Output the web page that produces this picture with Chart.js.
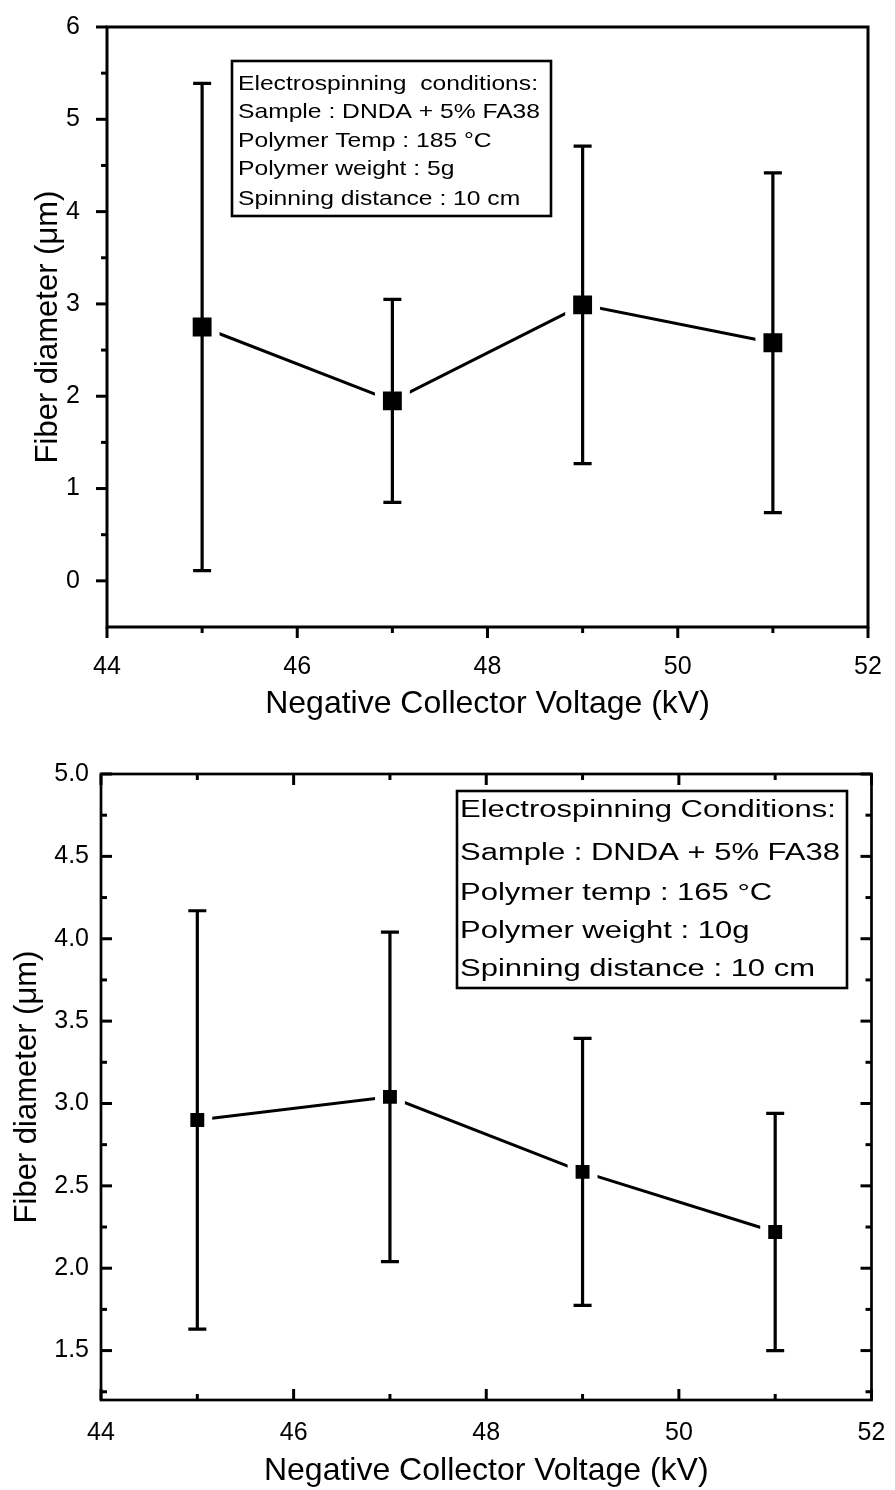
<!DOCTYPE html>
<html><head><meta charset="utf-8">
<script src="https://cdn.jsdelivr.net/npm/chart.js@4/dist/chart.umd.min.js"></script>
<style>
html,body{margin:0;padding:0;background:#fff;overflow:hidden;}
#w1{position:absolute;left:0;top:0;width:895px;height:730px;}
#w2{position:absolute;left:0;top:730px;width:895px;height:760px;}
</style></head><body>
<div id="w1"><canvas id="c1"></canvas></div>
<div id="w2"><canvas id="c2"></canvas></div>
<script>
// ---------- data ----------
const voltage = [45, 47, 49, 51];
const diameterA = [2.75, 1.95, 2.99, 2.58];
const errorA = [2.64, 1.10, 1.72, 1.84];
const diameterB = [2.90, 3.04, 2.585, 2.22];
const errorB = [1.27, 1.00, 0.81, 0.72];
const xTickValues = [44, 46, 48, 50, 52];
const xMinorValues = [45, 47, 49, 51];
const yTickValuesA = [0, 1, 2, 3, 4, 5, 6];
const yMinorValuesA = [0.5, 1.5, 2.5, 3.5, 4.5, 5.5];
const yTickValuesB = [1.5, 2.0, 2.5, 3.0, 3.5, 4.0, 4.5, 5.0];
const yMinorValuesB = [1.25, 1.75, 2.25, 2.75, 3.25, 3.75, 4.25, 4.75];
const boxLinesA = ['Electrospinning  conditions:', 'Sample : DNDA + 5% FA38', 'Polymer Temp : 185 \u00B0C', 'Polymer weight : 5g', 'Spinning distance : 10 cm'];
const boxLinesB = ['Electrospinning Conditions:', 'Sample : DNDA + 5% FA38', 'Polymer temp : 165 \u00B0C', 'Polymer weight : 10g', 'Spinning distance : 10 cm'];
const xTitle = 'Negative Collector Voltage (kV)';
const yTitle = 'Fiber diameter (\u03BCm)';

const FONT = "'Liberation Sans', Arial, Helvetica, sans-serif";
Chart.defaults.font.family = FONT;
Chart.defaults.color = '#000';

function errorBarPlugin(values, errors, capHalf, lw) {
  return {
    id: 'errbars',
    afterDatasetsDraw(chart) {
      const ctx = chart.ctx, xs = chart.scales.x, ys = chart.scales.y;
      ctx.save();
      ctx.strokeStyle = '#000';
      ctx.lineWidth = lw;
      voltage.forEach((v, i) => {
        const px = xs.getPixelForValue(v);
        const top = ys.getPixelForValue(values[i] + errors[i]);
        const bot = ys.getPixelForValue(values[i] - errors[i]);
        ctx.beginPath();
        ctx.moveTo(px, top); ctx.lineTo(px, bot);
        ctx.moveTo(px - capHalf, top); ctx.lineTo(px + capHalf, top);
        ctx.moveTo(px - capHalf, bot); ctx.lineTo(px + capHalf, bot);
        ctx.stroke();
      });
      ctx.restore();
    }
  };
}

function framePlugin(cfg) {
  return {
    id: 'frame',
    afterDraw(chart) {
      const ctx = chart.ctx, xs = chart.scales.x, ys = chart.scales.y;
      const a = chart.chartArea;
      ctx.save();
      ctx.strokeStyle = '#000';
      ctx.lineWidth = cfg.frameWidth;
      ctx.strokeRect(a.left, a.top, a.right - a.left, a.bottom - a.top);
      ctx.lineWidth = 3;
      const d = cfg.inward ? 1 : -1;
      const tick = (x1, y1, x2, y2) => { ctx.beginPath(); ctx.moveTo(x1, y1); ctx.lineTo(x2, y2); ctx.stroke(); };
      const xt = (vals, len) => vals.forEach(v => {
        const px = xs.getPixelForValue(v);
        tick(px, a.bottom, px, a.bottom - d * len);
        if (cfg.allSides) tick(px, a.top, px, a.top + d * len);
      });
      const yt = (vals, len) => vals.forEach(v => {
        const py = ys.getPixelForValue(v);
        tick(a.left, py, a.left + d * len, py);
        if (cfg.allSides) tick(a.right, py, a.right - d * len, py);
      });
      xt(xTickValues, 11); xt(xMinorValues, 6);
      yt(cfg.yMajor, 11); yt(cfg.yMinor, 6);
      // info box
      const b = cfg.box;
      ctx.lineWidth = 2.6;
      ctx.fillStyle = '#fff';
      ctx.fillRect(b.x, b.y, b.w, b.h);
      ctx.strokeRect(b.x, b.y, b.w, b.h);
      ctx.fillStyle = '#000';
      ctx.font = b.size + 'px ' + FONT;
      ctx.textBaseline = 'alphabetic';
      const sx = b.refWidth / ctx.measureText(cfg.lines[1]).width;
      cfg.lines.forEach((t, i) => {
        ctx.save();
        ctx.translate(b.tx, b.baselines[i]);
        ctx.scale(sx, 1);
        ctx.fillText(t, 0, 0);
        ctx.restore();
      });
      ctx.restore();
    }
  };
}

function makeChart(id, o) {
  return new Chart(document.getElementById(id), {
    type: 'line',
    data: {
      datasets: [{
        data: voltage.map((x, i) => ({ x: x, y: o.values[i] })),
        borderColor: '#000',
        borderWidth: o.lineWidth,
        pointStyle: 'rect',
        pointRadius: o.pointRadius,
        pointBackgroundColor: '#000',
        pointBorderColor: '#fff',
        pointBorderWidth: 8,
        tension: 0,
        fill: false
      }]
    },
    options: {
      responsive: true,
      maintainAspectRatio: false,
      animation: false,
      events: [],
      layout: { padding: o.padding },
      plugins: { legend: { display: false }, tooltip: { enabled: false } },
      scales: {
        x: {
          type: 'linear', min: 44, max: 52,
          afterBuildTicks: s => { s.ticks = xTickValues.map(v => ({ value: v })); },
          afterFit: s => { s.height = o.xHeight; },
          grid: { display: false },
          border: { display: false },
          ticks: { font: { family: FONT, size: 25, lineHeight: o.xLabelLH }, color: '#000', padding: 0, maxRotation: 0, autoSkip: false },
          title: { display: true, text: xTitle, font: { family: FONT, size: 32 }, color: '#000', padding: { top: 0, bottom: o.xTitlePad } }
        },
        y: {
          type: 'linear', min: o.yMin, max: o.yMax,
          afterBuildTicks: s => { s.ticks = o.yMajor.map(v => ({ value: v })); },
          afterFit: s => { s.width = o.yWidth; },
          grid: { display: false },
          border: { display: false },
          ticks: { font: { family: FONT, size: 25, lineHeight: 0.4 }, color: '#000', padding: o.yPad, callback: v => o.fmt(v) },
          title: { display: true, text: yTitle, font: { family: FONT, size: 31 }, color: '#000', padding: { top: o.yTitlePad, bottom: 0 } }
        }
      }
    },
    plugins: [errorBarPlugin(o.values, o.errors, 9, 3.2), framePlugin(o.frame)]
  });
}

makeChart('c1', {
  values: diameterA, errors: errorA, lineWidth: 3, pointRadius: 19,
  padding: { left: 0, top: 25, right: 20, bottom: 0 },
  xHeight: 103, yWidth: 107, xLabelLH: 2.56, yPad: 19, xTitlePad: 7, yTitlePad: 30,
  yMin: -0.5, yMax: 6, yMajor: yTickValuesA, fmt: v => String(v),
  frame: {
    frameWidth: 3, inward: false, allSides: false, yMajor: yTickValuesA, yMinor: yMinorValuesA,
    lines: boxLinesA,
    box: { x: 232, y: 61, w: 319, h: 155, tx: 238, size: 21, refWidth: 302, baselines: [90, 118, 147, 175, 205] }
  }
});

makeChart('c2', {
  values: diameterB, errors: errorB, lineWidth: 3, pointRadius: 15.5,
  padding: { left: 0, top: 44, right: 18, bottom: 0 },
  xHeight: 90, yWidth: 101, xLabelLH: 2.0, yPad: 4, xTitlePad: 0, yTitlePad: 9,
  yMin: 1.2, yMax: 5.0, yMajor: yTickValuesB, fmt: v => v.toFixed(1),
  frame: {
    frameWidth: 2.7, inward: true, allSides: true, yMajor: yTickValuesB, yMinor: yMinorValuesB,
    lines: boxLinesB,
    box: { x: 457, y: 61, w: 390, h: 197, tx: 460, size: 23, refWidth: 380, baselines: [87, 130, 170, 208, 246] }
  }
});
</script>
</body></html>
